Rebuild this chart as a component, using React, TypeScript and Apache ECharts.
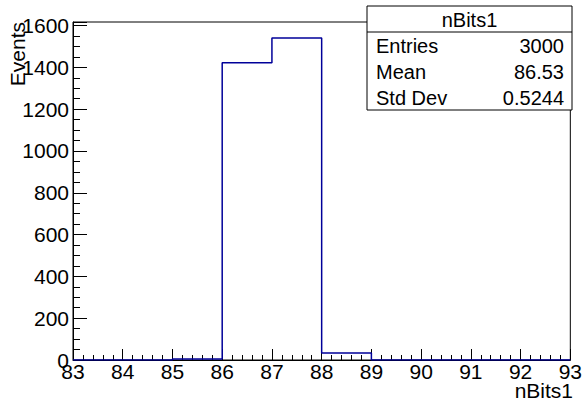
import React, { useEffect, useRef } from "react";
import * as echarts from "echarts";

const binEdges = [83, 84, 85, 86, 87, 88, 89, 90, 91, 92, 93];
const binCounts = [0, 0, 5, 1422, 1540, 33, 0, 0, 0, 0];
const statsTitle = "nBits1";
const statsLabels = ["Entries", "Mean", "Std Dev"];
const statsValues = ["3000", "86.53", "0.5244"];
const xTitle = "nBits1";
const yTitle = "Events";

const FONT = "'Liberation Sans', Arial, Helvetica, sans-serif";
const HCOLOR = "#000099";

export default function App() {
  const ref = useRef<HTMLDivElement>(null);
  useEffect(() => {
    if (!ref.current) return;
    const chart = echarts.init(ref.current, null, { renderer: "svg" });
    const stepData: number[][] = binCounts.map((v, i) => [binEdges[i], v]);
    stepData.push([binEdges[binEdges.length - 1], binCounts[binCounts.length - 1]]);

    const boxL = 367, boxR = 572, boxT = 6, boxB = 110, divY = 32;
    const rowH = (boxB - divY) / statsLabels.length;
    const statGraphics: any[] = [
      { type: "rect", shape: { x: boxL, y: boxT, width: boxR - boxL, height: boxB - boxT }, style: { fill: "#fff", stroke: "#000", lineWidth: 1 }, z: 10 },
      { type: "line", shape: { x1: boxL, y1: divY, x2: boxR, y2: divY }, style: { stroke: "#000", lineWidth: 1 }, z: 11 },
      { type: "text", x: (boxL + boxR) / 2, y: (boxT + divY) / 2 + 1, style: { text: statsTitle, font: `20px ${FONT}`, fill: "#000", textAlign: "center", textVerticalAlign: "middle" }, z: 11 },
    ];
    statsLabels.forEach((lab, i) => {
      const cy = divY + rowH * (i + 0.5) + 1;
      statGraphics.push({ type: "text", x: boxL + 9, y: cy, style: { text: lab, font: `20px ${FONT}`, fill: "#000", textAlign: "left", textVerticalAlign: "middle" }, z: 11 });
      statGraphics.push({ type: "text", x: boxR - 8, y: cy, style: { text: statsValues[i], font: `20px ${FONT}`, fill: "#000", textAlign: "right", textVerticalAlign: "middle" }, z: 11 });
    });

    chart.setOption({
      animation: false,
      backgroundColor: "#fff",
      grid: { left: 73, right: 13, top: 22, bottom: 41, show: true, borderColor: "#000", borderWidth: 1, backgroundColor: "transparent" },
      xAxis: {
        type: "value",
        min: 83,
        max: 93,
        interval: 1,
        axisLine: { show: true, lineStyle: { color: "#000", width: 1 } },
        axisTick: { show: true, inside: true, length: 11, lineStyle: { color: "#000" } },
        minorTick: { show: true, splitNumber: 5, length: 5, lineStyle: { color: "#000" } },
        splitLine: { show: false },
        axisLabel: { color: "#000", fontFamily: FONT, fontSize: 21, margin: 1 },
      },
      yAxis: {
        type: "value",
        min: 0,
        max: 1617,
        interval: 200,
        axisLine: { show: true, lineStyle: { color: "#000", width: 1 } },
        axisTick: { show: true, inside: true, length: 14, lineStyle: { color: "#000" } },
        minorTick: { show: true, splitNumber: 4, length: 7, lineStyle: { color: "#000" } },
        splitLine: { show: false },
        axisLabel: {
          color: "#000",
          fontFamily: FONT,
          fontSize: 21,
          margin: 4,
          showMaxLabel: false,
          formatter: (v: number) => (v % 200 === 0 ? String(v) : ""),
        },
      },
      series: [
        {
          type: "line",
          step: "end",
          data: stepData,
          symbol: "none",
          lineStyle: { color: HCOLOR, width: 1.5 },
          z: 5,
        },
      ],
      graphic: [
        { type: "text", x: 17, y: 22, rotation: Math.PI / 2, style: { text: yTitle, font: `21px ${FONT}`, fill: "#000", textAlign: "right", textVerticalAlign: "middle" } },
        { type: "text", x: 573, y: 390, style: { text: xTitle, font: `21px ${FONT}`, fill: "#000", textAlign: "right", textVerticalAlign: "middle" } },
        ...statGraphics,
      ],
    });
    return () => chart.dispose();
  }, []);
  return <div ref={ref} style={{ width: 585, height: 401, position: "absolute", left: 0, top: 0 }} />;
}
